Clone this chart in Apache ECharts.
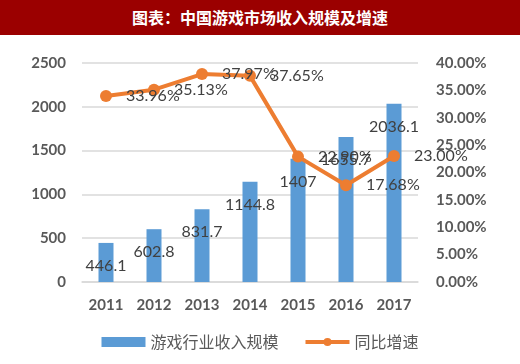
<!DOCTYPE html>
<html><head><meta charset="utf-8">
<script src="https://cdn.jsdelivr.net/npm/echarts@6/dist/echarts.min.js"></script>
<style>html,body{margin:0;padding:0;background:#fff}#title{position:absolute;left:0;top:0;width:520px;height:35px;background:#9b0000;color:#fff;font:bold 16px "Noto Sans CJK SC";line-height:35px;text-align:center;}#c{position:absolute;left:0;top:0;width:520px;height:364px}</style>
</head><body>
<div id="c"></div>
<div id="title">图表：中国游戏市场收入规模及增速</div>
<script>
var categories = ['2011','2012','2013','2014','2015','2016','2017'];
var revenue = [446.1, 602.8, 831.7, 1144.8, 1407, 1655.7, 2036.1];
var growth = [33.96, 35.13, 37.97, 37.65, 22.90, 17.68, 23.00];
var barName = '游戏行业收入规模';
var lineName = '同比增速';

var font = 'Lato';
var chart = echarts.init(document.getElementById('c'));
chart.setOption({
  animation: false,
  textStyle: {fontFamily: font},
  grid: {left: 82, right: 102, top: 63, bottom: 82},
  legend: {
    bottom: 9, left: 'center', itemGap: 25, itemWidth: 44, itemHeight: 10,
    textStyle: {fontSize: 16, color: '#595959', fontFamily: 'Noto Sans CJK SC'},
    data: [{name: barName, icon: 'rect'},
           {name: lineName, lineStyle: {width: 4}, itemStyle: {color: '#ed7d31'}}]
  },
  xAxis: {
    type: 'category', data: categories,
    axisLine: {lineStyle: {color: '#d9d9d9', width: 1.5}},
    axisTick: {show: false},
    axisLabel: {color: '#595959', fontSize: 15, margin: 16, fontWeight: 'bold'}
  },
  yAxis: [{
    type: 'value', min: 0, max: 2500, interval: 500,
    axisLabel: {color: '#595959', fontSize: 15, margin: 16, fontWeight: 'bold',
      formatter: function (v) { return String(v); }},
    splitLine: {lineStyle: {color: '#d9d9d9', width: 1.5}},
    axisLine: {show: false}, axisTick: {show: false}
  }, {
    type: 'value', min: 0, max: 40, interval: 5,
    axisLabel: {color: '#595959', fontSize: 15, margin: 18, fontWeight: 'bold',
      formatter: function (v) { return v.toFixed(2) + '%'; }},
    splitLine: {show: false}, axisLine: {show: false}, axisTick: {show: false}
  }],
  series: [{
    name: barName, type: 'bar', data: revenue, barWidth: 15,
    itemStyle: {color: '#5b9bd5'},
    label: {show: true, position: 'insideTop', distance: 15, color: '#404040', fontSize: 16}
  }, {
    name: lineName, type: 'line', yAxisIndex: 1, data: growth,
    symbol: 'circle', symbolSize: 12,
    lineStyle: {color: '#ed7d31', width: 4},
    itemStyle: {color: '#ed7d31'},
    label: {show: true, position: 'right', distance: 14, color: '#404040', fontSize: 16,
      formatter: function (p) { return p.value.toFixed(2) + '%'; }},
    z: 3
  }]
});
</script>
</body></html>
